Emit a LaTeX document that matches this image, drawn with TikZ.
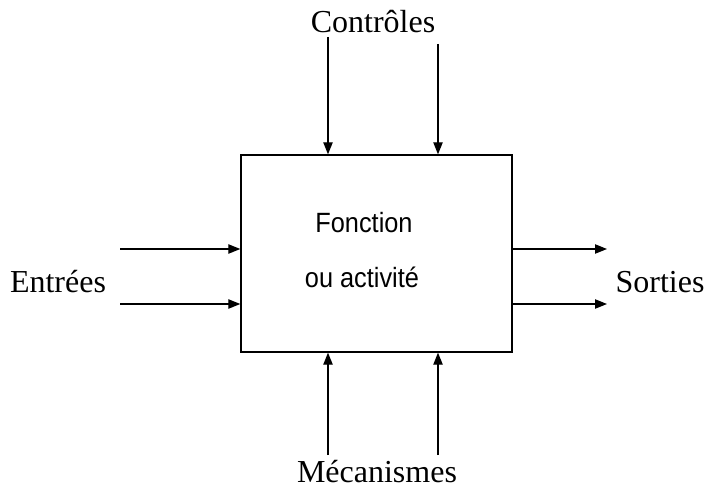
\documentclass[tikz,border=0pt]{standalone}
\usepackage{fontspec}
\setmainfont{Liberation Serif}
\newfontfamily\arialfont{Liberation Sans}
\usetikzlibrary{arrows.meta}
\usetikzlibrary{positioning}
\newcommand{\fntext}[1]{\scalebox{1}[1.1]{#1}}

\begin{document}
\begin{tikzpicture}[x=0.75pt,y=0.75pt,yscale=-1,xscale=1,
  flow/.style={line width=0.9pt,-{Triangle[length=9pt,width=7pt]}},
  lbl/.style={font=\fontsize{24}{27}\selectfont,inner sep=0pt,anchor=base},
  fnlbl/.style={font=\arialfont\fontsize{19}{22}\selectfont,inner sep=0pt,anchor=base}]
\useasboundingbox (0,0) rectangle (705,502);

%Shape: the activity box
\node[draw,line width=1pt,minimum width=203.25pt,minimum height=147.75pt,inner sep=0pt] (fn) at (376.5,253.5) {};
\node[fnlbl] (fnA) at (364,232) {\fntext{Fonction}};
\node[fnlbl] (fnB) at (362,287) {\fntext{ou activit\'e}};

%Labels
\node[lbl] (ctrl) at (373,33) {Contr\^oles};
\node[lbl] (in) at (58,292) {Entr\'ees};
\node[lbl] (out) at (660,292) {Sorties};
\node[lbl] (mec) at (377,482) {M\'ecanismes};

%Free ends of the arrows
\coordinate (c1) at (328,37);
\coordinate (c2) at (438,44);
\coordinate (e1) at (120,249);
\coordinate (e2) at (120,304);
\coordinate (s1) at (607,249);
\coordinate (s2) at (607,304);
\coordinate (m1) at (328,455);
\coordinate (m2) at (438,455);

%Arrows
\draw[flow] (c1) -- (c1 |- fn.north);
\draw[flow] (c2) -- (c2 |- fn.north);
\draw[flow] (e1) -- (e1 -| fn.west);
\draw[flow] (e2) -- (e2 -| fn.west);
\draw[flow] (s1 -| fn.east) -- (s1);
\draw[flow] (s2 -| fn.east) -- (s2);
\draw[flow] (m1) -- (m1 |- fn.south);
\draw[flow] (m2) -- (m2 |- fn.south);

\end{tikzpicture}
\end{document}
